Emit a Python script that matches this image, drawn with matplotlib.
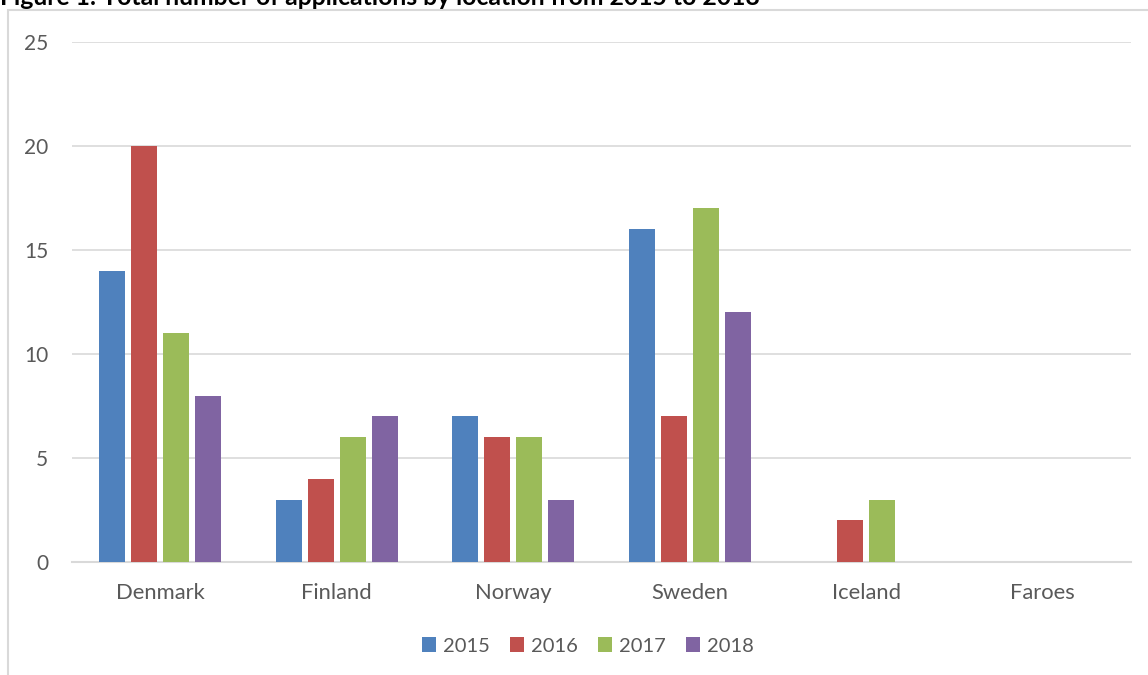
import numpy as np
import matplotlib.pyplot as plt
from matplotlib.patches import Rectangle

# data
locations = ["Denmark", "Finland", "Norway", "Sweden", "Iceland", "Faroes"]
years = ["2015", "2016", "2017", "2018"]
apps_2015 = [14, 3, 7, 16, 0, 0]
apps_2016 = [20, 4, 6, 7, 2, 0]
apps_2017 = [11, 6, 6, 17, 3, 0]
apps_2018 = [8, 7, 3, 12, 0, 0]
y_ticks = [0, 5, 10, 15, 20, 25]

colors = ["#4F81BD", "#C0504D", "#9BBB59", "#8064A2"]
text_color = "#595959"

plt.rcParams["font.family"] = ["Lato", "DejaVu Sans"]

W, H = 1148, 675
fig = plt.figure(figsize=(W / 100, H / 100), dpi=100)

# chart frame (cut off on the right and bottom like the screenshot)
fig.add_artist(Rectangle((8 / W, -0.05), 1.2, 1 - 10 / H + 0.05,
                         transform=fig.transFigure, fill=False,
                         edgecolor="#d9d9d9", linewidth=1.5))

# title, mostly cut off at the top edge as in the screenshot
fig.text(0.0, 1 - 5 / H, "Figure 1: Total number of applications by location from 2015 to 2018",
         fontsize=17.8, fontweight="bold", color="black", ha="left", va="baseline")

ax = fig.add_axes([72 / W, 1 - 562 / H, (1131 - 72) / W, (562 - 42) / H])

x = np.arange(len(locations))
step = 0.181
width = 0.147
series = [apps_2015, apps_2016, apps_2017, apps_2018]
for i, (vals, yr) in enumerate(zip(series, years)):
    ax.bar(x + (i - 1.5) * step, vals, width=width, color=colors[i], label=yr, zorder=3)

ax.set_xlim(-0.5, len(locations) - 0.5)
ax.set_ylim(0, 25)
ax.set_yticks(y_ticks)
ax.set_xticks(x)
ax.set_xticklabels(locations)
ax.tick_params(axis="x", length=0, labelsize=15.8, colors=text_color, pad=15)
ax.tick_params(axis="y", length=0, labelsize=15, colors=text_color, pad=17)
ax.grid(axis="y", color="#d9d9d9", linewidth=1.2, zorder=0)
for s in ["top", "right", "left"]:
    ax.spines[s].set_visible(False)
ax.spines["bottom"].set_color("#d9d9d9")
ax.spines["bottom"].set_linewidth(1.5)

ax.legend(loc="center", bbox_to_anchor=(588 / W, 1 - 646 / H), bbox_transform=fig.transFigure,
          ncol=4, frameon=False, fontsize=14.5, labelcolor=text_color,
          handlelength=0.7, handleheight=0.7, handletextpad=0.35, columnspacing=1.0)

fig.savefig("out.png", dpi=100)
